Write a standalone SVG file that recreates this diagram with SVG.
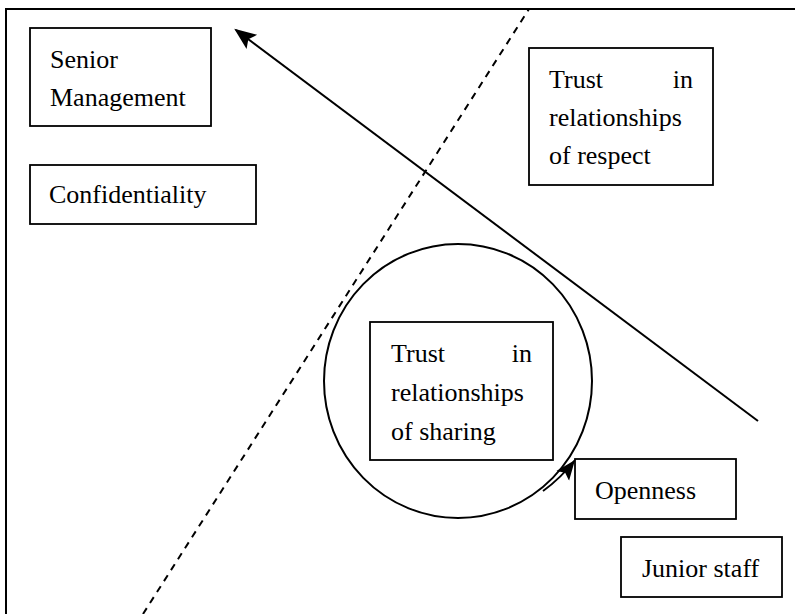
<svg xmlns="http://www.w3.org/2000/svg" width="795" height="614" viewBox="0 0 795 614">
<style>
.box{fill:#fff;stroke:#000;stroke-width:1.8}
.t{font-family:"Liberation Serif","Times New Roman",serif;font-size:26px;fill:#000}
.e{text-anchor:end}
.ln{fill:none;stroke:#000;stroke-width:2}
</style>
<defs>
<marker id="ah" viewBox="0 0 10 10" refX="10" refY="5" markerWidth="20" markerHeight="20" markerUnits="userSpaceOnUse" orient="auto">
<path d="M0,1 L10,5 L0,9 L2,5 Z" fill="#000"/>
</marker>
<marker id="ah2" viewBox="0 0 10 10" refX="9" refY="5" markerWidth="22" markerHeight="22" markerUnits="userSpaceOnUse" orient="auto">
<path d="M0,1 L10,5 L0,9 L2,5 Z" fill="#000"/>
</marker>
</defs>
<rect width="795" height="614" fill="#fff"/>
<g id="frame">
<path class="ln" d="M6,614 L6,9 L795,9"/>
</g>
<g id="connectors">
<line x1="143" y1="614" x2="529" y2="9" stroke="#000" stroke-width="2" stroke-dasharray="7,6"/>
<ellipse cx="458" cy="381" rx="134" ry="137" class="ln" stroke-width="1.8"/>
<line x1="758" y1="421" x2="236" y2="30" class="ln" marker-end="url(#ah2)"/>
<path class="ln" d="M543,491 Q561,478 575,460" marker-end="url(#ah)"/>
</g>
<g id="senior">
<rect class="box" x="30" y="28" width="181" height="98"/>
<text class="t" x="50" y="68">Senior</text>
<text class="t" x="50" y="106">Management</text>
</g>
<g id="confidentiality">
<rect class="box" x="30" y="165" width="226" height="59"/>
<text class="t" x="49" y="203">Confidentiality</text>
</g>
<g id="respect">
<rect class="box" x="529" y="48" width="184" height="137"/>
<text class="t" x="549" y="88">Trust</text>
<text class="t e" x="693" y="88">in</text>
<text class="t" x="549" y="126">relationships</text>
<text class="t" x="549" y="164">of respect</text>
</g>
<g id="sharing">
<rect class="box" x="370" y="322" width="183" height="138"/>
<text class="t" x="391" y="362">Trust</text>
<text class="t e" x="532" y="362">in</text>
<text class="t" x="391" y="401">relationships</text>
<text class="t" x="391" y="440">of sharing</text>
</g>
<g id="openness">
<rect class="box" x="575" y="459" width="161" height="60"/>
<text class="t" x="595" y="499">Openness</text>
</g>
<g id="junior">
<rect class="box" x="621" y="537" width="161" height="60"/>
<text class="t" x="642" y="577">Junior staff</text>
</g>
</svg>
